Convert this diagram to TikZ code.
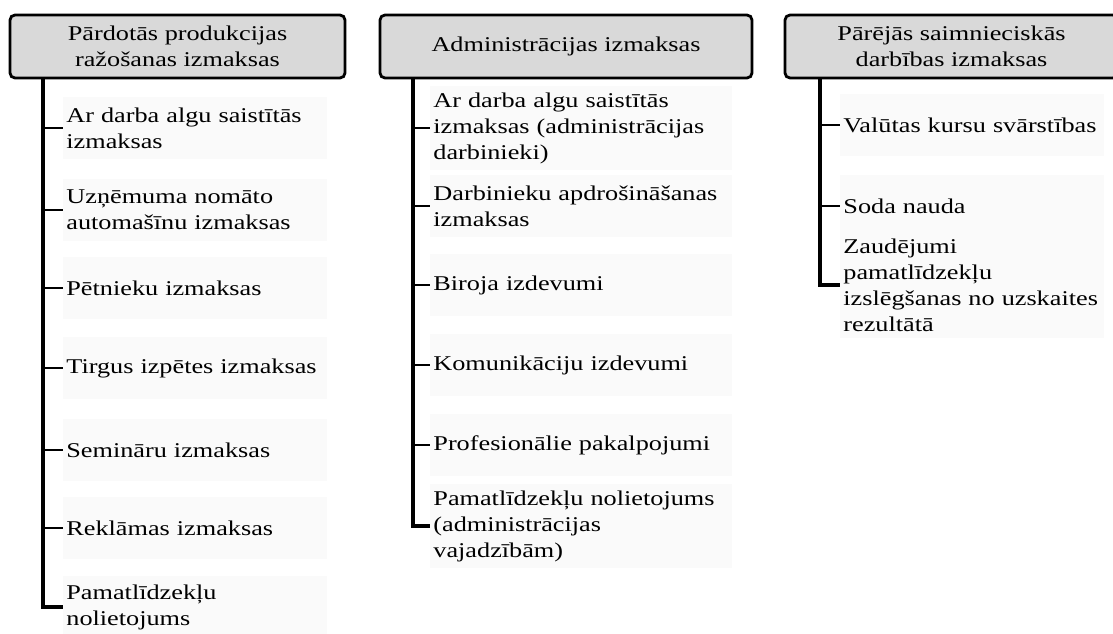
\documentclass[tikz,border=0pt]{standalone}
\usepackage{fontspec}
\setmainfont{Liberation Serif}[FakeStretch=1.25]
\begin{document}
\begin{tikzpicture}[x=0.5pt,y=-0.5pt,
    hdr/.style={draw,line width=1.4pt,rounded corners=2.5pt,fill=black!15,minimum height=31.5pt,
                align=center,inner sep=1pt,font=\fontsize{10.5}{13}\selectfont},
    itm/.style={anchor=west,fill=black!2,align=left,inner xsep=1.5pt,minimum height=31pt,
                font=\fontsize{10.5}{13}\selectfont},
    trunk/.style={line width=1.6pt},
    twig/.style={line width=1pt}]
                    \clip (0,0) rectangle (1113,633);
                    \node[hdr,minimum width=167.5pt] (h1) at (177.5,46.5) {Pārdotās produkcijas\\ražošanas izmaksas};
                    \node[hdr,minimum width=186pt]   (h2) at (566,46.5)   {Administrācijas izmaksas};
                    \node[hdr,minimum width=166.5pt] (h3) at (951.5,46.5) {Pārējās saimnieciskās\\darbības izmaksas};
                    \node[itm,text width=129pt] (a1) at (63,128)  {Ar darba algu saistītās\\izmaksas};
                    \node[itm,text width=129pt] (a2) at (63,210)  {Uzņēmuma nomāto\\automašīnu izmaksas};
                    \node[itm,text width=129pt] (a3) at (63,288)  {Pētnieku izmaksas};
                    \node[itm,text width=129pt] (a4) at (63,368)  {Tirgus izpētes izmaksas};
                    \node[itm,text width=129pt] (a5) at (63,450)  {Semināru izmaksas};
                    \node[itm,text width=129pt] (a6) at (63,528)  {Reklāmas izmaksas};
                    \node[itm,text width=129pt] (a7) at (63,607)  {Pamatlīdzekļu\\nolietojums};
                    \node[itm,text width=148pt] (b1) at (430,128) {Ar darba algu saistītās\\izmaksas (administrācijas\\darbinieki)};
                    \node[itm,text width=148pt] (b2) at (430,206) {Darbinieku apdrošināšanas\\izmaksas};
                    \node[itm,text width=148pt] (b3) at (430,285) {Biroja izdevumi};
                    \node[itm,text width=148pt] (b4) at (430,365) {Komunikāciju izdevumi};
                    \node[itm,text width=148pt] (b5) at (430,445) {Profesionālie pakalpojumi};
                    \node[itm,text width=148pt] (b6) at (430,526) {Pamatlīdzekļu nolietojums\\(administrācijas\\vajadzībām)};
                    \node[itm,text width=129pt] (c1) at (840,125) {Valūtas kursu svārstības};
                    \node[itm,text width=129pt] (c2) at (840,206) {Soda nauda};
                    \node[itm,text width=129pt] (c3) at (840,285) {Zaudējumi\\pamatlīdzekļu\\izslēgšanas no uzskaites\\rezultātā};
                    \coordinate (t1) at (h1.south -| 43,0);
                    \coordinate (t2) at (h2.south -| 413,0);
                    \coordinate (t3) at (h3.south -| 820,0);
                    \draw[trunk] (t1) |- (a7.west);
                    \draw[trunk] (t2) |- (b6.west);
                    \draw[trunk] (t3) |- (c3.west);
                    \draw[twig] (t1 |- a1.west) -- (a1.west);
                    \draw[twig] (t1 |- a2.west) -- (a2.west);
                    \draw[twig] (t1 |- a3.west) -- (a3.west);
                    \draw[twig] (t1 |- a4.west) -- (a4.west);
                    \draw[twig] (t1 |- a5.west) -- (a5.west);
                    \draw[twig] (t1 |- a6.west) -- (a6.west);
                    \draw[twig] (t2 |- b1.west) -- (b1.west);
                    \draw[twig] (t2 |- b2.west) -- (b2.west);
                    \draw[twig] (t2 |- b3.west) -- (b3.west);
                    \draw[twig] (t2 |- b4.west) -- (b4.west);
                    \draw[twig] (t2 |- b5.west) -- (b5.west);
                    \draw[twig] (t3 |- c1.west) -- (c1.west);
                    \draw[twig] (t3 |- c2.west) -- (c2.west);
                \end{tikzpicture}
\end{document}
